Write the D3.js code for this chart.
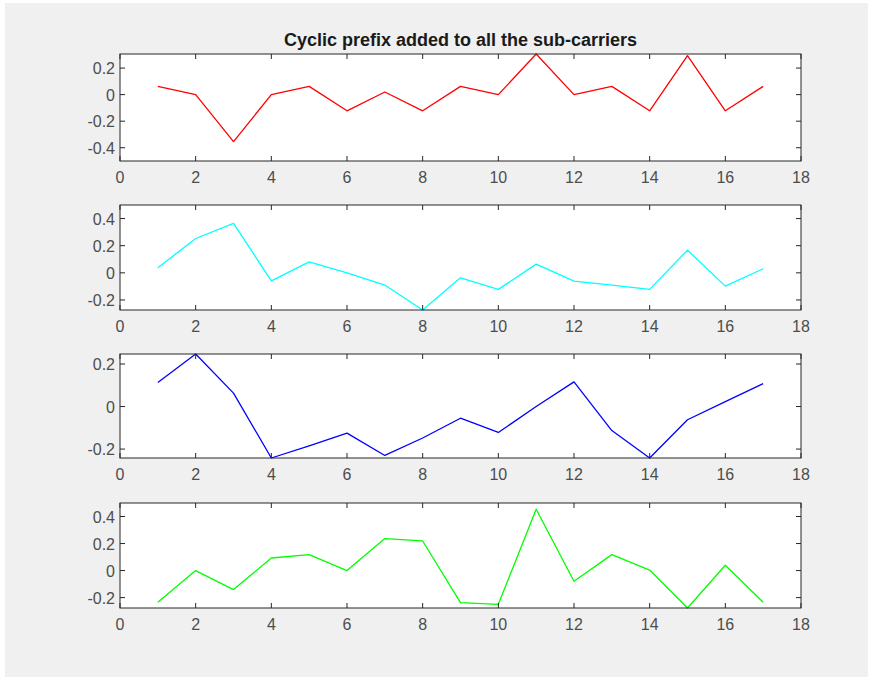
<!DOCTYPE html>
<html>
<head>
<meta charset="utf-8">
<script src="https://d3js.org/d3.v7.min.js"></script>
<style>
  body { margin: 0; background: #ffffff; }
  text { font-family: "Liberation Sans", Arial, sans-serif; }
</style>
</head>
<body>
<script>
    // sub-carrier index
    const xs = d3.range(1, 18);

    // values
    const redVals   = [0.062, 0, -0.354, 0, 0.062, -0.122, 0.02, -0.122, 0.062, 0, 0.306, 0, 0.062, -0.122, 0.293, -0.122, 0.062];
    const cyanVals  = [0.037, 0.253, 0.365, -0.059, 0.081, 0, -0.09, -0.274, -0.037, -0.122, 0.064, -0.061, -0.09, -0.122, 0.167, -0.098, 0.03];
    const blueVals  = [0.113, 0.247, 0.063, -0.242, -0.185, -0.125, -0.23, -0.148, -0.055, -0.122, 0, 0.116, -0.113, -0.242, -0.062, 0.023, 0.108];
    const greenVals = [-0.235, 0, -0.141, 0.093, 0.118, 0, 0.237, 0.219, -0.237, -0.25, 0.454, -0.079, 0.118, 0.004, -0.277, 0.039, -0.235];

    const xTicks = [0, 2, 4, 6, 8, 10, 12, 14, 16, 18];

    const yLims  = [[-0.5, 0.306], [-0.274, 0.5], [-0.242, 0.247], [-0.277, 0.5]];
    const yTicks = [[-0.4, -0.2, 0, 0.2], [-0.2, 0, 0.2, 0.4], [-0.2, 0, 0.2], [-0.2, 0, 0.2, 0.4]];

    const title = "Cyclic prefix added to all the sub-carriers";

    const width = 870, height = 679;
    const left = 120, right = 801;
    const panels = [
        {vals: redVals,   color: "#ff0000", top: 54,  bottom: 161},
        {vals: cyanVals,  color: "#00ffff", top: 205, bottom: 310},
        {vals: blueVals,  color: "#0000ff", top: 354, bottom: 458},
        {vals: greenVals, color: "#00ff00", top: 503, bottom: 608}
    ];

    const svg = d3.select("body")
        .append("svg")
            .attr("width", width)
            .attr("height", height);

    svg.append("rect")
        .attr("x", 5).attr("y", 3)
        .attr("width", width - 7).attr("height", height - 5)
        .attr("fill", "#f0f0f0");

    let x = d3.scaleLinear().domain([0, 18]).range([left, right]);

    const fmt = v => v === 0 ? "0" : d3.format(".1f")(v).replace("\u2212", "-");
    const axisCol = "#262626", labCol = "#4d4d4d", tl = 5, fs = 16;

    panels.forEach((p, i) => {
        let y = d3.scaleLinear().domain(yLims[i]).range([p.bottom, p.top]);
        let g = svg.append("g");

        g.append("rect")
            .attr("x", left).attr("y", p.top)
            .attr("width", right - left).attr("height", p.bottom - p.top)
            .attr("fill", "#ffffff");

        let line = d3.line()
            .x((d, j) => x(xs[j]))
            .y(d => y(d));

        g.append("path")
            .datum(p.vals)
            .attr("fill", "none")
            .attr("stroke", p.color)
            .attr("stroke-width", 1.3)
            .attr("stroke-linejoin", "round")
            .attr("d", line);

        // inward ticks on all four sides
        xTicks.forEach(t => {
            g.append("line")
                .attr("x1", x(t)).attr("x2", x(t))
                .attr("y1", p.bottom).attr("y2", p.bottom - tl)
                .attr("stroke", axisCol);
            g.append("line")
                .attr("x1", x(t)).attr("x2", x(t))
                .attr("y1", p.top).attr("y2", p.top + tl)
                .attr("stroke", axisCol);
            g.append("text")
                .attr("x", x(t)).attr("y", p.bottom + 22)
                .attr("text-anchor", "middle")
                .attr("font-size", fs)
                .attr("fill", labCol)
                .text(t);
        });

        yTicks[i].forEach(t => {
            g.append("line")
                .attr("x1", left).attr("x2", left + tl)
                .attr("y1", y(t)).attr("y2", y(t))
                .attr("stroke", axisCol);
            g.append("line")
                .attr("x1", right).attr("x2", right - tl)
                .attr("y1", y(t)).attr("y2", y(t))
                .attr("stroke", axisCol);
            g.append("text")
                .attr("x", left - 5).attr("y", y(t) + 6)
                .attr("text-anchor", "end")
                .attr("font-size", fs)
                .attr("fill", labCol)
                .text(fmt(t));
        });

        g.append("rect")
            .attr("x", left).attr("y", p.top)
            .attr("width", right - left).attr("height", p.bottom - p.top)
            .attr("fill", "none")
            .attr("stroke", axisCol)
            .attr("stroke-width", 1);
    });

    svg.append("text")
        .attr("x", (left + right) / 2)
        .attr("y", 46)
        .attr("text-anchor", "middle")
        .attr("font-size", 18)
        .attr("font-weight", "bold")
        .attr("fill", "#1a1a1a")
        .text(title);
</script>
</body>
</html>
